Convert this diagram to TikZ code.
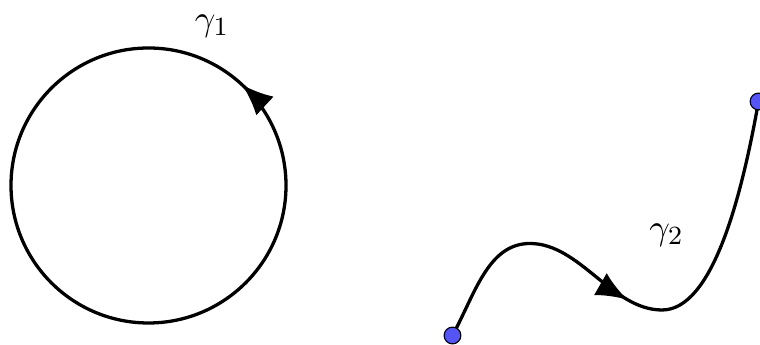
\documentclass[tikz,border=0pt]{standalone}
\usetikzlibrary{arrows.meta,decorations.markings}
\definecolor{dotblue}{RGB}{85,85,245}
\tikzset{
  curve/.style={line width=1pt},
  dot/.style={circle,draw=black,line width=0.35pt,fill=dotblue,inner sep=0pt,minimum size=5.1pt},
  lbl/.style={font=\fontsize{10.8pt}{13pt}\selectfont},
  tipmark/.style={postaction={decorate},decoration={markings,mark=at position #1 with {\arrow{Latex[length=9.5pt,width=7.8pt]}}}}
}
\begin{document}
\begin{tikzpicture}[x=0.0107cm,y=-0.0107cm]
\useasboundingbox (0,0) rectangle (760,345);
% circle gamma_1
\coordinate (c) at (148.5,185.5);
\draw[curve,tipmark=0.131] (c) ++(137.5,0) arc[start angle=0,end angle=-360,radius=137.5];
\node[lbl] (g1) at (212,26) {$\gamma_1$};
% curve gamma_2
\coordinate (p) at (452.5,335.5);
\coordinate (q) at (758.5,101.5);
\draw[curve,tipmark=0.465] (p) .. controls (475,294) and (488,243.5) .. (530,243.5)
  .. controls (580,243.5) and (612,310) .. (662,310)
  .. controls (712,310) and (741,200) .. (q);
\node[dot] (a) at (p) {};
\node[dot] (b) at (q) {};
\node[lbl] (g2) at (666.5,235) {$\gamma_2$};
\end{tikzpicture}
\end{document}
